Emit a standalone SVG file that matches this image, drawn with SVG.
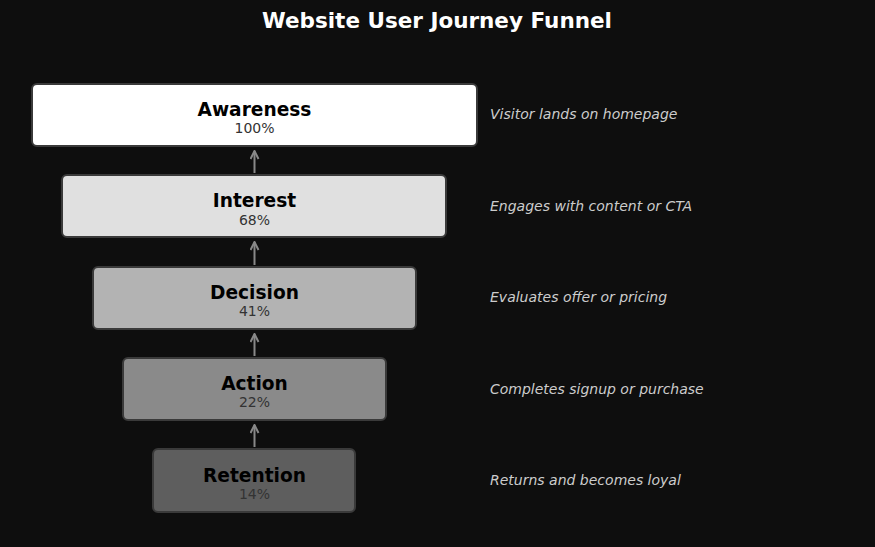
<svg xmlns="http://www.w3.org/2000/svg" width="875" height="547" viewBox="0 0 875 547">
<defs>
<style>
.title{font-family:"DejaVu Sans",sans-serif;font-weight:bold;font-size:21.5px;fill:#ffffff;text-anchor:middle}
.box{stroke:#3a3a3a;stroke-width:2}
.lbl{font-family:"DejaVu Sans",sans-serif;font-weight:bold;font-size:18.6px;fill:#000000;text-anchor:middle}
.pct{font-family:"DejaVu Sans",sans-serif;font-size:14px;fill:#333333;text-anchor:middle}
.desc{font-family:"DejaVu Sans",sans-serif;font-style:italic;font-size:14px;fill:#cccccc}
.conn{stroke:#888888;stroke-width:2;fill:none}
</style>
<marker id="ah" viewBox="0 0 10 10" refX="9" refY="5" markerWidth="5" markerHeight="5" orient="auto">
<path d="M1,1 L9,5 L1,9" fill="none" stroke="#888888" stroke-width="2"/>
</marker>
</defs>
<rect width="875" height="547" fill="#0e0e0e"/>
<text class="title" x="437" y="28">Website User Journey Funnel</text>

<g id="connectors">
<line class="conn" x1="254.5" y1="173" x2="254.5" y2="151" marker-end="url(#ah)"/>
<line class="conn" x1="254.5" y1="265" x2="254.5" y2="242" marker-end="url(#ah)"/>
<line class="conn" x1="254.5" y1="356" x2="254.5" y2="334" marker-end="url(#ah)"/>
<line class="conn" x1="254.5" y1="447" x2="254.5" y2="425" marker-end="url(#ah)"/>
</g>

<g id="awareness">
<rect class="box" x="32" y="84" width="445" height="62" rx="5" fill="#ffffff"/>
<text class="lbl" x="254.5" y="116">Awareness</text>
<text class="pct" x="254.5" y="133">100%</text>
<text class="desc" x="490" y="119">Visitor lands on homepage</text>
</g>
<g id="interest">
<rect class="box" x="62" y="175" width="384" height="62" rx="5" fill="#e0e0e0"/>
<text class="lbl" x="254.5" y="207">Interest</text>
<text class="pct" x="254.5" y="225">68%</text>
<text class="desc" x="490" y="211">Engages with content or CTA</text>
</g>
<g id="decision">
<rect class="box" x="93" y="267" width="323" height="62" rx="5" fill="#b3b3b3"/>
<text class="lbl" x="254.5" y="299">Decision</text>
<text class="pct" x="254.5" y="316">41%</text>
<text class="desc" x="490" y="302">Evaluates offer or pricing</text>
</g>
<g id="action">
<rect class="box" x="123" y="358" width="263" height="62" rx="5" fill="#8a8a8a"/>
<text class="lbl" x="254.5" y="390">Action</text>
<text class="pct" x="254.5" y="407">22%</text>
<text class="desc" x="490" y="394">Completes signup or purchase</text>
</g>
<g id="retention">
<rect class="box" x="153" y="449" width="202" height="63" rx="5" fill="#5e5e5e"/>
<text class="lbl" x="254.5" y="482">Retention</text>
<text class="pct" x="254.5" y="499">14%</text>
<text class="desc" x="490" y="485">Returns and becomes loyal</text>
</g>
</svg>
